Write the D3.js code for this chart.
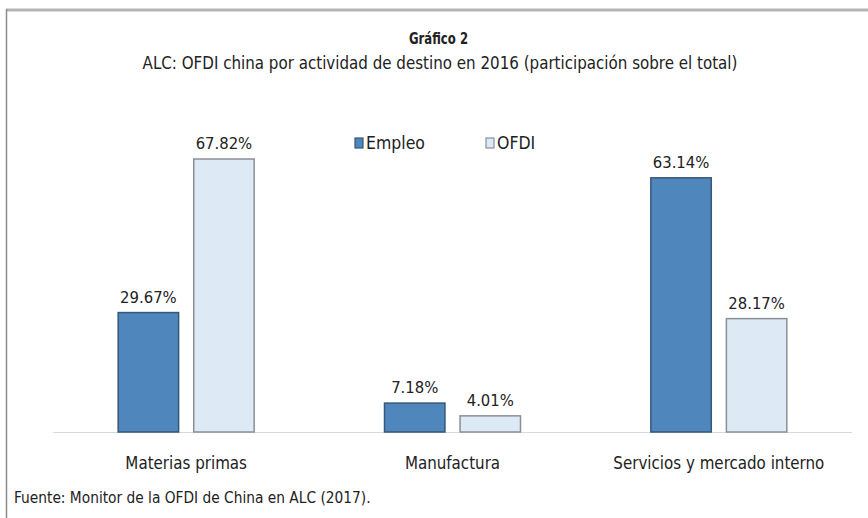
<!DOCTYPE html>
<html>
<head>
<meta charset="utf-8">
<script src="https://cdn.jsdelivr.net/npm/d3@7"></script>
<style>
  body { margin: 0; background: #fff; }
  text { font-family: "DejaVu Sans Condensed", "Liberation Sans", sans-serif; fill: #222; }
</style>
</head>
<body>
<script>
var w = 868;
var h = 518;

var categories = ["Materias primas", "Manufactura", "Servicios y mercado interno"];
var series = ["Empleo", "OFDI"];
var empleo = [29.67, 7.18, 63.14];
var ofdi = [67.82, 4.01, 28.17];

var colors = { "Empleo": "#4f86bb", "OFDI": "#dde9f5" };
var strokes = { "Empleo": "#34577a", "OFDI": "#8a8f96" };

var rows = categories.map(function (c, i) {
  return { cat: c, values: [{ key: "Empleo", v: empleo[i] }, { key: "OFDI", v: ofdi[i] }] };
});

var svg = d3.select("body")
  .append("svg")
  .attr("width", w)
  .attr("height", h);

// frame
svg.append("rect").attr("x", 0).attr("y", 0).attr("width", w).attr("height", h).attr("fill", "#fff");
svg.append("line").attr("x1", 6).attr("x2", w).attr("y1", 10).attr("y2", 10)
  .attr("stroke", "#b5b5b5").attr("stroke-width", 3);
svg.append("line").attr("x1", 6.5).attr("x2", 6.5).attr("y1", 9).attr("y2", h)
  .attr("stroke", "#8c8c8c").attr("stroke-width", 1.5);

var baseY = 432;

let xScale = d3.scaleBand()
  .domain(categories)
  .range([53, 852]);

let xInner = d3.scaleBand()
  .domain(series)
  .range([0, 136])
  .paddingInner(0.2);

let yScale = d3.scaleLinear()
  .domain([0, 67.82])
  .range([baseY, 159]);

// baseline
svg.append("line")
  .attr("x1", 53).attr("x2", 852)
  .attr("y1", baseY + 0.5).attr("y2", baseY + 0.5)
  .attr("stroke", "#d9d9d9").attr("stroke-width", 1);

let groups = svg.selectAll("g.cat")
  .data(rows)
  .enter()
  .append("g")
  .attr("class", "cat")
  .attr("transform", function (d) {
    return "translate(" + (xScale(d.cat) + xScale.bandwidth() / 2 - 68) + ",0)";
  });

groups.selectAll("rect")
  .data(function (d) { return d.values; })
  .enter()
  .append("rect")
  .attr("x", function (d) { return xInner(d.key); })
  .attr("y", function (d) { return yScale(d.v); })
  .attr("width", xInner.bandwidth())
  .attr("height", function (d) { return baseY - yScale(d.v); })
  .attr("fill", function (d) { return colors[d.key]; })
  .attr("stroke", function (d) { return strokes[d.key]; })
  .attr("stroke-width", 1.5);

groups.selectAll("text.val")
  .data(function (d) { return d.values; })
  .enter()
  .append("text")
  .attr("class", "val")
  .attr("x", function (d) { return xInner(d.key) + xInner.bandwidth() / 2; })
  .attr("y", function (d) { return yScale(d.v) - 10; })
  .attr("text-anchor", "middle")
  .attr("font-size", 16.5)
  .text(function (d) { return d.v.toFixed(2) + "%"; });

// category labels
svg.selectAll("text.cat")
  .data(categories)
  .enter()
  .append("text")
  .attr("class", "cat")
  .attr("x", function (d) { return xScale(d) + xScale.bandwidth() / 2; })
  .attr("y", 469)
  .attr("text-anchor", "middle")
  .attr("font-size", 16.8)
  .text(function (d) { return d; });

// legend
var legendX = { "Empleo": 355, "OFDI": 486 };
var leg = svg.selectAll("g.leg")
  .data(series)
  .enter()
  .append("g")
  .attr("class", "leg")
  .attr("transform", function (d) { return "translate(" + legendX[d] + ",138)"; });
leg.append("rect")
  .attr("width", 8).attr("height", 10)
  .attr("fill", function (d) { return colors[d]; })
  .attr("stroke", function (d) { return strokes[d]; })
  .attr("stroke-width", 1.2);
leg.append("text")
  .attr("x", 11).attr("y", 11)
  .attr("font-size", 17.5)
  .text(function (d) { return d; });

// titles
svg.append("text")
  .attr("x", 409).attr("y", 44)
  .attr("font-size", 16.5)
  .attr("font-weight", "bold")
  .attr("textLength", 59)
  .attr("lengthAdjust", "spacingAndGlyphs")
  .text("Gráfico 2");
svg.append("text")
  .attr("x", 440).attr("y", 69)
  .attr("text-anchor", "middle")
  .attr("font-size", 16.8)
  .text("ALC: OFDI china por actividad de destino en 2016 (participación sobre el total)");

svg.append("text")
  .attr("x", 14).attr("y", 503)
  .attr("font-size", 15.3)
  .text("Fuente: Monitor de la OFDI de China en ALC (2017).");
</script>
</body>
</html>
